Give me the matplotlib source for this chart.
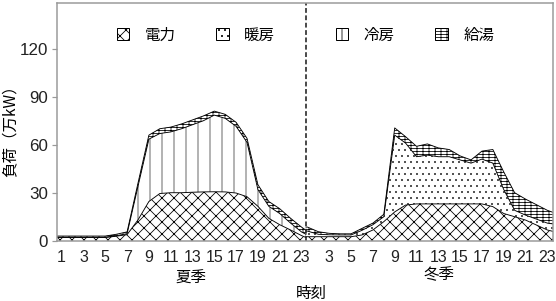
import numpy as np
import matplotlib.pyplot as plt
from matplotlib.patches import Patch

plt.rcParams['font.family'] = ['Liberation Sans Narrow', 'Liberation Sans', 'DejaVu Sans']
plt.rcParams['hatch.linewidth'] = 0.8
jp = ['Noto Sans CJK JP', 'DejaVu Sans']

# summer (夏季), hours 1..23, last value sits on the split line
summer_elec = [2.0, 2.0, 2.0, 2.0, 2.0, 2.8, 3.8, 13, 24.5, 29.5, 30, 30, 30.3, 30.5,
               30.6, 30.5, 29.8, 27.5, 21.5, 14, 10, 6.7, 3.2, 2.0]
summer_cool = [0.2, 0.2, 0.2, 0.2, 0.2, 0.3, 0.6, 21, 39, 37.5, 38, 40, 42.2, 44.5,
               47.9, 46, 41.7, 34, 10.5, 7.5, 7, 4.3, 2.3, 2.0]
summer_hot = [0.7, 0.7, 0.7, 0.7, 0.7, 0.9, 1.1, 2, 2.5, 3, 3, 3, 3, 3,
              2.5, 2.5, 2.5, 2.5, 3, 3, 3, 3, 3, 2.5]

# winter (冬季), hours 1..24
winter_elec = [2.5, 2.5, 2.5, 2.5, 2.5, 3.6, 6.7, 11.9, 18, 22.3, 23, 23, 23, 23,
               23, 23, 23, 21.3, 17, 15, 12.9, 9.8, 6.7, 5.0]
winter_heat = [3.5, 1.5, 1.2, 1.1, 1.1, 2.9, 3.3, 3.1, 48, 38.7, 29.5, 30.5, 29.5, 29.5,
               27.5, 25.5, 28, 27.2, 15, 4, 3.1, 3.7, 4.3, 5.0]
winter_hot = [2.5, 1.6, 0.9, 0.7, 0.7, 1.2, 1.0, 1.5, 4.5, 4, 6.5, 7, 5.5, 4.5,
              2.5, 2, 5, 8.5, 11, 11, 10, 9, 8, 6.5]

summer_ticks = list(range(1, 24, 2))
winter_ticks = list(range(3, 24, 2))

x_left, x_split, x_right = 0.57, 23.41, 46.07
shift = 22.55  # winter hour h drawn at h + shift

# (hatch, hatch colour)
sty_elec = ('xx', 'black')
sty_heat = ('..', '#333333')
sty_cool = ('|', '#444444')
sty_hot = ('----||', 'black')

fig = plt.figure(figsize=(556 / 72, 301 / 72), dpi=72)
ax = fig.add_axes([57 / 556, 1 - 240.7 / 301, 496 / 556, 237.7 / 301])

hours = np.arange(1, 24)
xs = np.r_[x_left, hours, x_split]
xw = np.r_[x_split, np.arange(1, 25) + shift]


def stack(x, layers, styles):
    low = np.zeros(len(x))
    for vals, (h, c) in zip(layers, styles):
        v = np.asarray(vals, float)
        v = np.r_[v[0], v]
        high = low + v
        ax.fill_between(x, low, high, facecolor='white', edgecolor=c,
                        hatch=h, lw=0)
        ax.plot(x, high, color='black', lw=0.9)
        low = high


stack(xs, [summer_elec, summer_cool, summer_hot], [sty_elec, sty_cool, sty_hot])
stack(xw, [winter_elec, winter_heat, winter_hot], [sty_elec, sty_heat, sty_hot])

ax.axvline(x_split, color='#222222', lw=1.6, ls=(0, (3, 1.6)))

ax.set_xlim(x_left, x_right)
ax.set_ylim(0, 148.6)
ax.set_yticks([0, 30, 60, 90, 120])
ax.set_xticks(summer_ticks + [t + shift for t in winter_ticks])
ax.set_xticklabels([str(t) for t in summer_ticks] + [str(t) for t in winter_ticks])
ax.tick_params(axis='x', length=0, pad=9, labelsize=16, colors='#222222')
ax.tick_params(axis='y', length=5, width=1.2, color='#999999', pad=4,
               labelsize=17, labelcolor='#222222')
for s in ax.spines.values():
    s.set_color('#999999')
    s.set_linewidth(1.5)


def patch(sty, label):
    return Patch(facecolor='white', edgecolor='black', hatch=sty[0], label=label)


# legend, in two groups
h1 = [patch(sty_elec, '電力'), patch(sty_heat, '暖房')]
h2 = [patch(sty_cool, '冷房'), patch(sty_hot, '給湯')]
kw = dict(ncol=2, frameon=False, loc='center left', borderpad=0, borderaxespad=0,
          handlelength=0.8, handleheight=0.8, handletextpad=1.0, columnspacing=2.6,
          prop={'family': jp, 'size': 15.5})
leg1 = ax.legend(handles=h1, bbox_to_anchor=(0.121, 0.865), **kw)
ax.add_artist(leg1)
ax.legend(handles=h2, bbox_to_anchor=(0.5625, 0.865), **kw)

trans = ax.get_xaxis_transform()
ax.text(12.9, -0.157, '夏季', transform=trans, ha='center', va='center',
        family=jp, fontsize=15.5)
ax.text(35.6, -0.144, '冬季', transform=trans, ha='center', va='center',
        family=jp, fontsize=15.5)
fig.text(311.7 / 556, 1 - 293 / 301, '時刻', ha='center', va='center',
         family=jp, fontsize=15.5)
fig.text(10 / 556, 1 - 127 / 301, '負荷（万kW）', rotation=90, ha='center',
         va='center', family=jp, fontsize=15.5)

fig.savefig('out.png', dpi=72)
